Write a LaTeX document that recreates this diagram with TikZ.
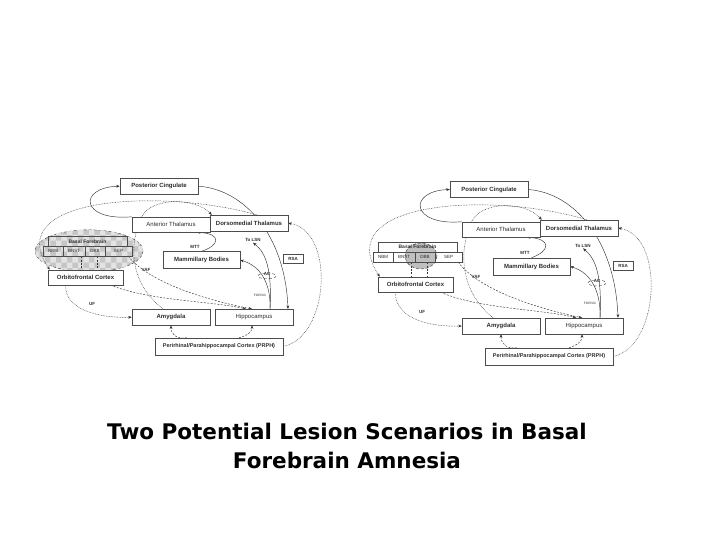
\documentclass[tikz,border=0pt]{standalone}
\usepackage{fontspec}
\usepackage{tikz}
\usetikzlibrary{arrows.meta,backgrounds,patterns}
\newfontfamily\labelfont{Liberation Sans}
\newfontfamily\titlefont{DejaVu Sans}

\tikzset{
	region/.style={draw=gray!60!black, fill=white, line width=0.5pt, inner sep=0pt,
		minimum width=78pt, minimum height=16pt, text=gray!35!black,
		font=\labelfont\bfseries\fontsize{6}{7}\selectfont},
	cell/.style={draw=gray!60!black, line width=0.35pt, inner sep=0pt,
		minimum height=10pt, text=gray!35!black,
		font=\labelfont\fontsize{4.5}{5}\selectfont},
	pathlbl/.style={inner sep=0.5pt, text=gray!35!black,
		font=\labelfont\bfseries\fontsize{4.5}{5}\selectfont},
	link/.style={draw=gray!40!black, line width=0.45pt},
	dotlink/.style={link, dash pattern=on 0.7pt off 0.9pt},
	dashlink/.style={link, dash pattern=on 2pt off 1.4pt},
	>={Stealth[length=3.5pt,width=2.8pt]}
}

% one copy of the circuit; #1 = the lesion, drawn behind everything
\newcommand{\circuit}[1]{
	\node[region] (PC)   at (129,8.5)   {Posterior Cingulate};
	\node[region, minimum height=15pt, font=\labelfont\fontsize{6}{7}\selectfont]
	                   (AT)   at (141,48.5)  {Anterior Thalamus};
	\node[region] (DMT)  at (219,47)    {Dorsomedial Thalamus};
	\node[cell, minimum width=79pt, font=\labelfont\bfseries\fontsize{5}{6}\selectfont]
	                   (BF)   at (57.5,66)   {Basal Forebrain};
	\node[cell, minimum width=20pt] (NBM)  at (23,76)   {NBM};
	\node[cell, minimum width=22pt] (BNST) at (44,76)   {BNST};
	\node[cell, minimum width=20pt] (DBB)  at (65,76)   {DBB};
	\node[cell, minimum width=27pt] (SEP)  at (88.5,76) {SEP};
	\node[region, minimum width=75pt, minimum height=15pt]
	                   (OFC)  at (55.5,103.5) {Orbitofrontal Cortex};
	\node[region, minimum width=77pt, minimum height=17pt]
	                   (MB)   at (171.5,85.5) {Mammillary Bodies};
	\node[region, minimum width=20pt, minimum height=9pt,
	      font=\labelfont\bfseries\fontsize{4.5}{5}\selectfont]
	                   (RSA)  at (263,84.5)  {RSA};
	\node[region] (Amy)  at (141,145)   {Amygdala};
	\node[region, font=\labelfont\fontsize{6}{7}\selectfont]
	                   (Hip)  at (224,145)   {Hippocampus};
	\node[region, minimum width=128pt, minimum height=17pt,
	      font=\labelfont\bfseries\fontsize{5.5}{6}\selectfont]
	                   (PRPH) at (189,175.5) {Perirhinal/Parahippocampal Cortex (PRPH)};
	
	\node[pathlbl] (LSN)    at (223,65)  {To LSN};
	\node[pathlbl] (MTT)    at (165,72)  {MTT};
	\node[pathlbl] (AC)     at (237,100) {AC};
	\node[pathlbl, font=\labelfont\fontsize{3.2}{4}\selectfont]
	                   (fornix) at (230,122) {FORNIX};
	\node[pathlbl] (VAF)    at (116,96)  {VAF};
	\node[pathlbl] (UF)     at (62,131)  {UF};
	\draw[link, densely dashed, line width=0.35pt] (237,102) ellipse [x radius=9, y radius=3];
	
	\begin{scope}[on background layer]
		#1
		\draw[link,->] (AT.north west) .. controls (50,45) and (48,10) .. (PC.west);
		\draw[link,->] (PC.east) .. controls (215,12) and (255,60) .. ([xshift=34]Hip.north);
		\draw[dotlink,->] (PRPH.east) .. controls (300,165) and (305,55) .. (DMT.east);
		\draw[dotlink,->] ([xshift=8]DMT.north) .. controls (130,10) and (-30,20) .. ([xshift=2]OFC.north west);
		\draw[dotlink,->] ([xshift=-8]Amy.north) .. controls (100,110) and (98,70) .. (112,40)
		      .. controls (122,20) and (165,20) .. ([xshift=2]DMT.north west);
		\draw[link,->] (MB.north) .. controls (190,70) and (192,58) .. ([xshift=26]AT.south);
		\draw[link,->] ([xshift=16]Hip.north) .. controls (241,112) and (232,92) .. (MB.east);
		\draw[link,->] ([xshift=16]Hip.north) .. controls (242,95) and (236,78) .. (LSN.south);
		\draw[dotlink,->] ([xshift=-20]OFC.south) .. controls (35,140) and (75,146) .. (Amy.west);
		\draw[dashlink,->] ([xshift=25]OFC.south) .. controls (120,128) and (180,128) .. ([xshift=-8]Hip.north);
		\draw[dashlink,->] ([xshift=-4]SEP.south east) .. controls (120,110) and (180,128) .. ([xshift=-2]Hip.north);
		\draw[dashlink] ([xshift=7]BNST.south) -- ([xshift=7]BNST.south |- OFC.north);
		\draw[dashlink] ([xshift=2]DBB.south) -- ([xshift=2]DBB.south |- OFC.north);
		\draw[dashlink,->] ([xshift=-32]PRPH.north) .. controls (148,168) and (141,164) .. (Amy.south);
		\draw[dashlink,->] ([xshift=20]PRPH.north) .. controls (218,164) and (222,160) .. ([xshift=-2]Hip.south);
	\end{scope}
}

\begin{document}
\begin{tikzpicture}[x=1pt, y=-1pt]
	\useasboundingbox (0,0) rectangle (720,540);
	
	% large lesion
	\begin{scope}[shift={(30,178)}, yscale=0.96]
		\circuit{\draw[densely dashed, draw=gray!40!black, fill=gray!45,
			postaction={pattern=checkerboard, pattern color=gray!22}]
			(59,76) ellipse [x radius=54, y radius=22];}
	\end{scope}
	
	% small lesion
	\begin{scope}[shift={(360,181)}]
		\circuit{\draw[densely dashed, draw=gray!40!black, fill=gray!50]
			(61,75) ellipse [x radius=16, y radius=13];}
	\end{scope}
	
	\node[font=\titlefont\bfseries\fontsize{21.5}{29}\selectfont, align=center]
	      (title) at (347,446) {Two Potential Lesion Scenarios in Basal\\Forebrain Amnesia};
\end{tikzpicture}
\end{document}
